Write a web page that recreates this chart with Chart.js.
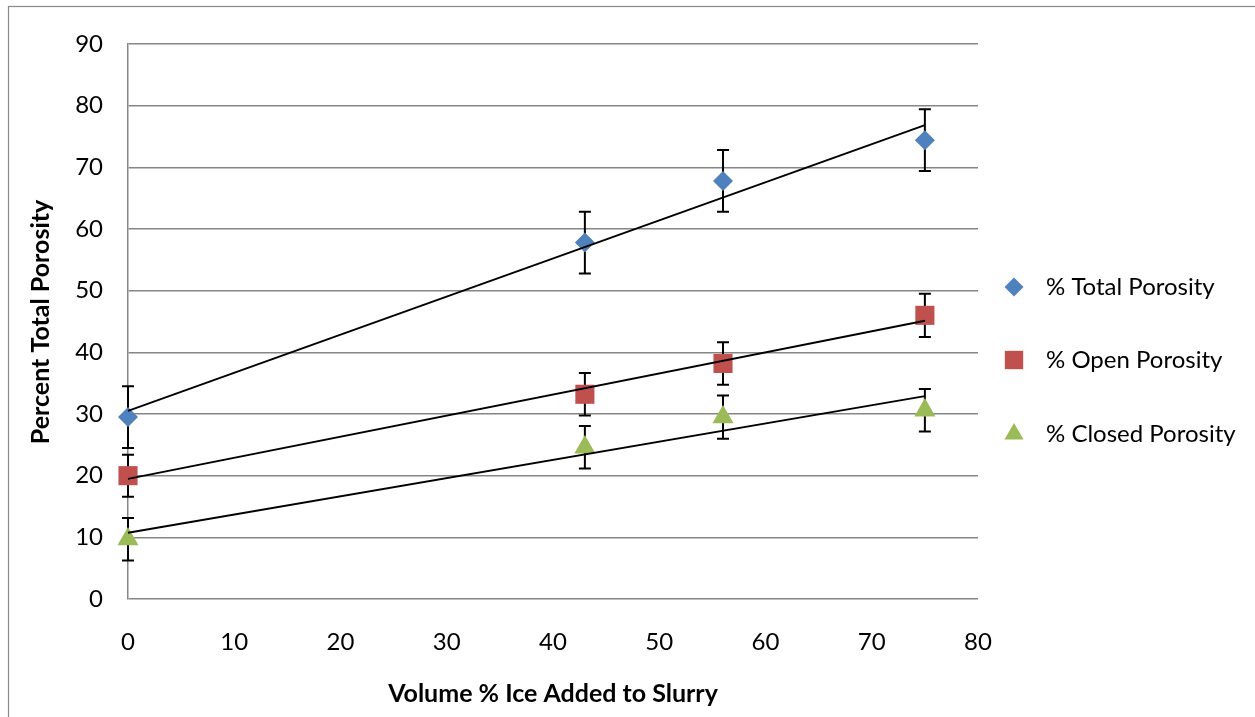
<!DOCTYPE html>
<html>
<head>
<meta charset="utf-8">
<script src="https://cdn.jsdelivr.net/npm/chart.js@4.4.1/dist/chart.umd.min.js"></script>
<style>
  html, body { margin: 0; padding: 0; background: #ffffff; }
  #wrap { width: 1255px; height: 717px; position: relative; }
</style>
</head>
<body>
<div id="wrap"><canvas id="c" width="1255" height="717"></canvas></div>
<script>
// ---- Data ----
const iceVolume      = [0, 43, 56, 75];
const totalPorosity  = [29.5, 57.8, 67.8, 74.4];
const openPorosity   = [20.0, 33.2, 38.2, 46.0];
const closedPorosity = [9.7, 24.6, 29.5, 30.6];
const totalError     = [5.0, 5.0, 5.0, 5.0];
const openError      = [3.4, 3.45, 3.45, 3.5];
const closedError    = [3.45, 3.45, 3.5, 3.45];
const seriesNames    = ['% Total Porosity', '% Open Porosity', '% Closed Porosity'];
const xTicks         = [0, 10, 20, 30, 40, 50, 60, 70, 80];
const yTicks         = [0, 10, 20, 30, 40, 50, 60, 70, 80, 90];
const xTitle = 'Volume % Ice Added to Slurry';
const yTitle = 'Percent Total Porosity';

const FONT = 'Lato, "Open Sans", "Liberation Sans", sans-serif';
const GRID = '#868686';
const colors = ['#4F81BD', '#C0504D', '#9BBB59'];
const shapes = ['rectRot', 'rect', 'triangle'];
const radii  = [10, 13.5, 12.2];

function pts(ys) { return iceVolume.map((x, i) => ({ x: x, y: ys[i] })); }

// least-squares linear trendline (like the spreadsheet trendline)
function trend(ys) {
  const n = iceVolume.length;
  const mx = iceVolume.reduce((a, b) => a + b, 0) / n;
  const my = ys.reduce((a, b) => a + b, 0) / n;
  let sxy = 0, sxx = 0;
  for (let i = 0; i < n; i++) { sxy += (iceVolume[i] - mx) * (ys[i] - my); sxx += (iceVolume[i] - mx) ** 2; }
  const m = sxy / sxx, b = my - m * mx;
  const x0 = Math.min(...iceVolume), x1 = Math.max(...iceVolume);
  return [{ x: x0, y: b + m * x0 }, { x: x1, y: b + m * x1 }];
}

const seriesValues = [totalPorosity, openPorosity, closedPorosity];
const seriesErrors = [totalError, openError, closedError];

const datasets = [];
seriesValues.forEach((ys, i) => {
  datasets.push({
    label: seriesNames[i], data: pts(ys), showLine: false, clip: false,
    pointStyle: shapes[i], pointRadius: radii[i], pointHoverRadius: radii[i],
    backgroundColor: colors[i], borderColor: colors[i], borderWidth: 0, order: 2
  });
});
seriesValues.forEach((ys, i) => {
  datasets.push({
    label: 'trend' + i, data: trend(ys), showLine: true, pointRadius: 0, clip: false,
    borderColor: '#000000', borderWidth: 1.9, fill: false, order: 1
  });
});

const decor = {
  id: 'decor',
  beforeDraw(chart) {
    const ctx = chart.ctx;
    ctx.save();
    ctx.fillStyle = '#fff';
    ctx.fillRect(0, 0, chart.width, chart.height);
    ctx.strokeStyle = '#8a8a8a';
    ctx.lineWidth = 1.2;
    ctx.strokeRect(8.5, 6.5, 1400, 900);
    ctx.restore();
  },
  beforeDatasetsDraw(chart) {
    const ctx = chart.ctx, xs = chart.scales.x, ys = chart.scales.y;
    ctx.save();
    ctx.strokeStyle = '#000';
    ctx.lineWidth = 2;
    seriesValues.forEach((vals, s) => {
      vals.forEach((v, i) => {
        const px = xs.getPixelForValue(iceVolume[i]);
        const top = ys.getPixelForValue(v + seriesErrors[s][i]);
        const bot = ys.getPixelForValue(v - seriesErrors[s][i]);
        ctx.beginPath();
        ctx.moveTo(px, top); ctx.lineTo(px, bot);
        ctx.moveTo(px - 6, top); ctx.lineTo(px + 6, top);
        ctx.moveTo(px - 6, bot); ctx.lineTo(px + 6, bot);
        ctx.stroke();
      });
    });
    ctx.restore();
  },
  afterDraw(chart) {
    const ctx = chart.ctx, ca = chart.chartArea;
    ctx.save();
    // axis titles
    ctx.fillStyle = '#000';
    ctx.font = 'bold 25px ' + FONT;
    ctx.textAlign = 'center';
    ctx.textBaseline = 'middle';
    ctx.fillText(xTitle, (ca.left + ca.right) / 2, 694);
    ctx.save();
    ctx.translate(41, 322);
    ctx.rotate(-Math.PI / 2);
    ctx.fillText(yTitle, 0, 0);
    ctx.restore();
    // legend
    const ly = [287, 360, 434];
    ctx.font = '24px ' + FONT;
    ctx.textAlign = 'left';
    seriesNames.forEach((name, i) => {
      ctx.fillStyle = colors[i];
      ctx.beginPath();
      const r = [9.5, 13, 11][i];
      if (i === 0) { ctx.moveTo(1014, ly[i] - r); ctx.lineTo(1014 + r, ly[i]); ctx.lineTo(1014, ly[i] + r); ctx.lineTo(1014 - r, ly[i]); }
      else if (i === 1) { const h = r * Math.SQRT1_2; ctx.rect(1014 - h, ly[i] - h, 2 * h, 2 * h); }
      else { ctx.moveTo(1014, ly[i] - r); ctx.lineTo(1014 + r * 0.866, ly[i] + r / 2); ctx.lineTo(1014 - r * 0.866, ly[i] + r / 2); }
      ctx.closePath();
      ctx.fill();
      ctx.fillStyle = '#000';
      ctx.fillText(name, 1046, ly[i]);
    });
    ctx.restore();
  }
};

new Chart(document.getElementById('c'), {
  type: 'scatter',
  data: { datasets: datasets },
  options: {
    responsive: false,
    animation: false,
    devicePixelRatio: 1,
    layout: { padding: { left: 0, top: 44, right: 277, bottom: 0 } },
    plugins: { legend: { display: false }, tooltip: { enabled: false } },
    scales: {
      x: {
        type: 'linear', min: 0, max: 80,
        afterBuildTicks(scale) { scale.ticks = xTicks.map(v => ({ value: v })); },
        afterFit(scale) { scale.height = 118; },
        grid: { display: false, drawTicks: false },
        border: { display: false },
        ticks: { color: '#000', font: { family: FONT, size: 24 }, padding: 29, maxRotation: 0 }
      },
      y: {
        type: 'linear', min: 0, max: 90,
        afterBuildTicks(scale) { scale.ticks = yTicks.map(v => ({ value: v })); },
        afterFit(scale) { scale.width = 128; },
        grid: { color: GRID, lineWidth: 1.5, drawTicks: false },
        border: { display: true, color: GRID, width: 1.5 },
        ticks: { color: '#000', font: { family: FONT, size: 24 }, padding: 25 }
      }
    }
  },
  plugins: [decor]
});
</script>
</body>
</html>
